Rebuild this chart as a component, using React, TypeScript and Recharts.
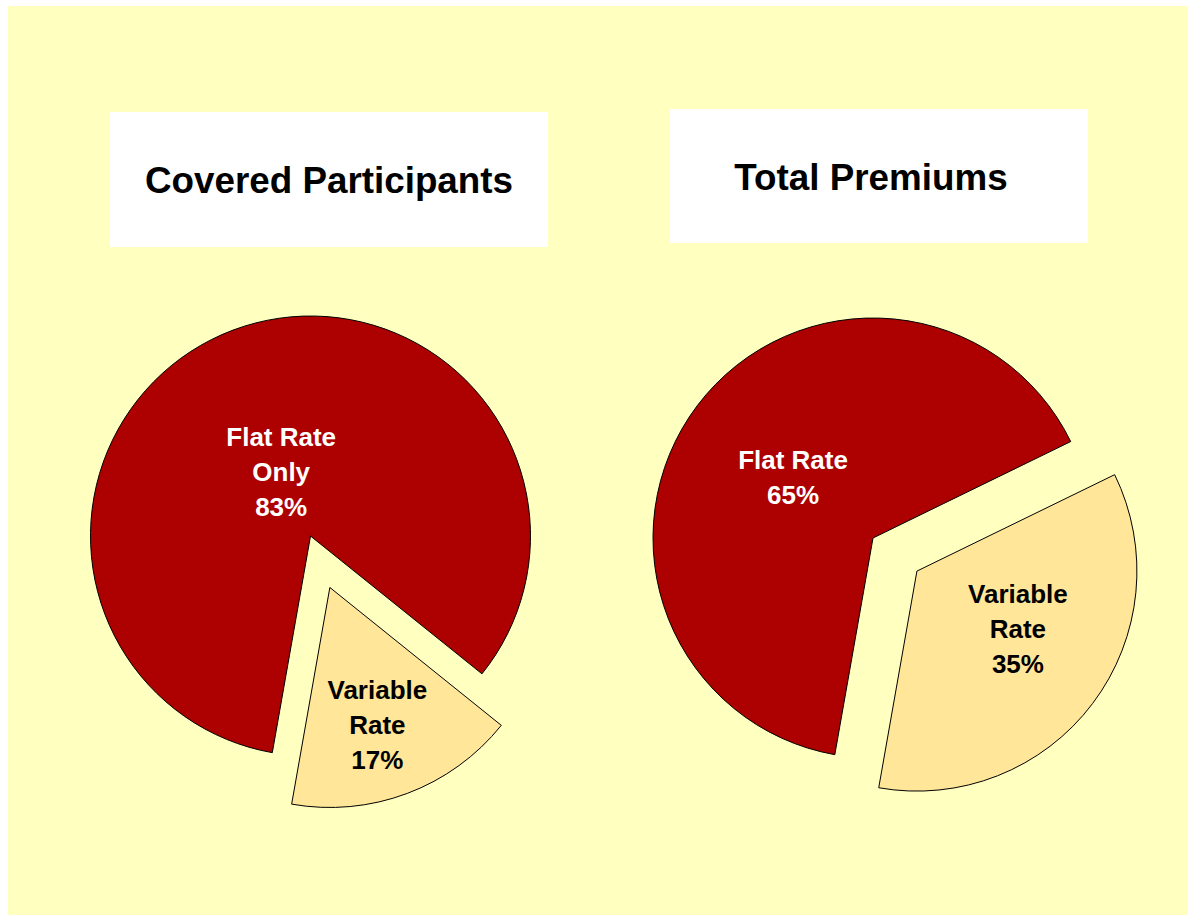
import { PieChart, Pie, Cell } from 'recharts';

// slice order: variable first, then flat rate (drawn counterclockwise from startAngle)
const categories = ['Variable Rate', 'Flat Rate'];
const participantsShare = [17, 83];
const premiumsShare = [35, 65];
const participantsLabels = [['Variable', 'Rate', '17%'], ['Flat Rate', 'Only', '83%']];
const premiumsLabels = [['Variable', 'Rate', '35%'], ['Flat Rate', '65%']];
const titles = ['Covered Participants', 'Total Premiums'];

const RED = '#AD0000';
const PALE = '#FFE699';
const BG = '#FFFFC0';
const FONT = '"Liberation Sans", Arial, sans-serif';
const START = -100;
const RADIUS = 220;
const EXPLODE = 55;
const RAD = Math.PI / 180;

const toRows = (shares: number[]) => categories.map((name, i) => ({ name, value: shares[i] }));

function explodedCenter(cx: number, cy: number, shares: number[]) {
  const total = shares.reduce((a, b) => a + b, 0);
  const mid = START + (360 * shares[0]) / total / 2;
  return { cx: cx + EXPLODE * Math.cos(-mid * RAD), cy: cy + EXPLODE * Math.sin(-mid * RAD) };
}

function makeLabel(lines: string[][], show: number, place: { ratio: number; turn: number }) {
  return (props: any) => {
    if (props.index !== show) return null;
    const a = -(props.midAngle + place.turn) * RAD;
    const r = props.outerRadius * place.ratio;
    const x = props.cx + r * Math.cos(a);
    const y = props.cy + r * Math.sin(a);
    const txt = lines[show];
    const lh = 35;
    const y0 = y - ((txt.length - 1) * lh) / 2;
    return (
      <text
        x={x}
        y={y0}
        textAnchor="middle"
        dominantBaseline="central"
        fontFamily={FONT}
        fontWeight="bold"
        fontSize={26}
        fill={show === 1 ? '#fff' : '#000'}
      >
        {txt.map((t, i) => (
          <tspan key={i} x={x} y={y0 + i * lh}>
            {t}
          </tspan>
        ))}
      </text>
    );
  };
}

function PieSet({ cx, cy, shares, lines, flatPlace, varPlace }: any) {
  const rows = toRows(shares);
  const ex = explodedCenter(cx, cy, shares);
  return [
    <Pie
      key="flat"
      data={rows}
      dataKey="value"
      cx={cx}
      cy={cy}
      outerRadius={RADIUS}
      startAngle={START}
      endAngle={START + 360}
      stroke="#000"
      strokeWidth={1}
      labelLine={false}
      label={makeLabel(lines, 1, flatPlace)}
      isAnimationActive={false}
    >
      <Cell fill="none" stroke="none" />
      <Cell fill={RED} />
    </Pie>,
    <Pie
      key="var"
      data={rows}
      dataKey="value"
      cx={ex.cx}
      cy={ex.cy}
      outerRadius={RADIUS}
      startAngle={START}
      endAngle={START + 360}
      stroke="#000"
      strokeWidth={1}
      labelLine={false}
      label={makeLabel(lines, 0, varPlace)}
      isAnimationActive={false}
    >
      <Cell fill={PALE} />
      <Cell fill="none" stroke="none" />
    </Pie>,
  ];
}

const titleBox = (left: number, top: number, w: number, h: number, text: string, shiftX: number, shiftY: number) => (
  <div
    style={{
      position: 'absolute',
      left,
      top,
      width: w,
      height: h,
      background: '#fff',
      display: 'flex',
      alignItems: 'center',
      justifyContent: 'center',
      fontFamily: FONT,
      fontWeight: 'bold',
      fontSize: 36.8,
      color: '#000',
    }}
  >
    <span style={{ transform: `translate(${shiftX}px, ${shiftY}px)` }}>{text}</span>
  </div>
);

export default function App() {
  return (
    <div style={{ position: 'fixed', left: 8, top: 6, width: 1180, height: 909, background: BG }}>
      {titleBox(102, 106, 438, 135, titles[0], 0, 1)}
      {titleBox(662, 103, 418, 134, titles[1], -8, 2)}
      <div style={{ position: 'absolute', left: 0, top: 0 }}>
        <PieChart width={1180} height={909} margin={{ top: 0, right: 0, bottom: 0, left: 0 }}>
          {PieSet({
            cx: 302.5,
            cy: 530,
            shares: participantsShare,
            lines: participantsLabels,
            flatPlace: { ratio: 0.32, turn: 4 },
            varPlace: { ratio: 0.66, turn: -1.5 },
          })}
          {PieSet({
            cx: 865,
            cy: 532,
            shares: premiumsShare,
            lines: premiumsLabels,
            flatPlace: { ratio: 0.455, turn: 0 },
            varPlace: { ratio: 0.53, turn: 7 },
          })}
        </PieChart>
      </div>
    </div>
  );
}
